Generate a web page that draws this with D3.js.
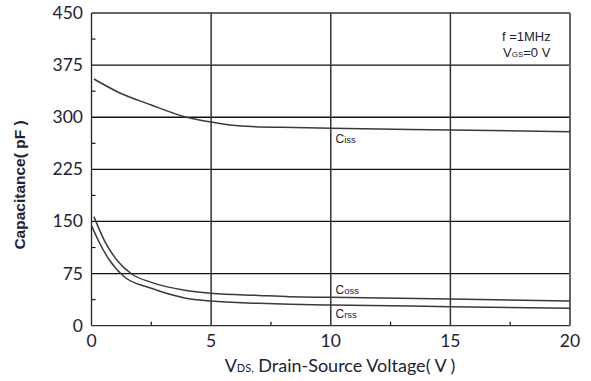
<!DOCTYPE html>
<html><head><meta charset="utf-8">
<script src="https://cdn.jsdelivr.net/npm/d3@7"></script>
<style>body{margin:0;background:#fff}svg{display:block}</style>
</head><body>
<svg id="c" width="591" height="381"></svg>
<script>
const xTicks = [0, 5, 10, 15, 20];
const yTicks = [0, 75, 150, 225, 300, 375, 450];
const xMinor = [2.5, 7.5, 12.5, 17.5];
const yMinor = [37.5, 112.5, 187.5, 262.5, 337.5, 412.5];
const vCiss = [0.1, 1.12, 2.5, 3.9, 5, 6, 6.84, 8, 10, 15, 20];
const ciss  = [355, 336, 317.6, 300.8, 293, 288, 286.4, 285.5, 284, 281.6, 279.2];
const vCoss = [0.1, 0.56, 1.12, 1.68, 2.5, 3.9, 5, 7, 8.3, 10, 15, 20];
const coss  = [157, 121, 92, 74.4, 62.4, 51, 46.6, 43.5, 41.7, 40.9, 38.4, 35.5];
const vCrss = [0, 0.28, 0.7, 1.37, 2.5, 3.9, 5, 7, 8.3, 10, 15, 20];
const crss  = [144, 123, 97, 70.5, 53.8, 40, 35.5, 32.2, 30.8, 29.8, 27.4, 25];

const svg = d3.select("#c");
const L = 91.5, R = 570, T = 13, B = 325.7;
const x = d3.scaleLinear().domain([0, 20]).range([L, R]);
const y = d3.scaleLinear().domain([0, 450]).range([B, T]);
const ink = "#222233";

// grid
svg.append("g").selectAll("line").data(yTicks.filter(d => d > 0 && d < 450)).join("line")
  .attr("x1", L).attr("x2", R).attr("y1", d => y(d)).attr("y2", d => y(d))
  .attr("stroke", "#111").attr("stroke-width", 1.3);
svg.append("g").selectAll("line").data(xTicks.filter(d => d > 0 && d < 20)).join("line")
  .attr("y1", T).attr("y2", B).attr("x1", d => x(d)).attr("x2", d => x(d))
  .attr("stroke", "#333").attr("stroke-width", 1.5);

// minor ticks
svg.append("g").selectAll("line").data(yMinor).join("line")
  .attr("x1", L).attr("x2", L + 4).attr("y1", d => y(d)).attr("y2", d => y(d))
  .attr("stroke", "#111").attr("stroke-width", 1.2);
svg.append("g").selectAll("line").data(xMinor).join("line")
  .attr("y1", B).attr("y2", B - 4).attr("x1", d => x(d)).attr("x2", d => x(d))
  .attr("stroke", "#111").attr("stroke-width", 1.2);

// frame
svg.append("line").attr("x1", L).attr("x2", R).attr("y1", T).attr("y2", T).attr("stroke", "#333").attr("stroke-width", 1.3);
svg.append("line").attr("x1", L).attr("x2", R).attr("y1", B).attr("y2", B).attr("stroke", "#333").attr("stroke-width", 1.3);
svg.append("line").attr("x1", L).attr("x2", L).attr("y1", T).attr("y2", B).attr("stroke", "#222").attr("stroke-width", 1.3);
svg.append("line").attr("x1", R).attr("x2", R).attr("y1", T).attr("y2", B).attr("stroke", "#666").attr("stroke-width", 2);

// curves
const line = d3.line().x(d => x(d[0])).y(d => y(d[1])).curve(d3.curveMonotoneX);
[[vCiss, ciss], [vCoss, coss], [vCrss, crss]].forEach(([vs, cs]) => {
  svg.append("path").attr("d", line(vs.map((v, i) => [v, cs[i]])))
    .attr("fill", "none").attr("stroke", "#3a3a3a").attr("stroke-width", 1.5);
});

// tick labels
const tf = "Lato, 'Open Sans', sans-serif";
svg.append("g").selectAll("text").data(yTicks).join("text")
  .attr("x", 83).attr("y", d => y(d) + 6).attr("text-anchor", "end")
  .attr("font-family", tf).attr("font-size", 17.5).attr("fill", ink).text(d => d);
svg.append("g").selectAll("text").data(xTicks).join("text")
  .attr("x", d => x(d)).attr("y", 347).attr("text-anchor", "middle")
  .attr("font-family", tf).attr("font-size", 17.5).attr("fill", ink).text(d => d);

// axis titles
const xt = svg.append("text").attr("x", 340).attr("y", 372).attr("text-anchor", "middle")
  .attr("font-family", tf).attr("font-size", 18).attr("fill", ink);
xt.append("tspan").text("V");
xt.append("tspan").attr("font-size", 11).text("DS,");
xt.append("tspan").text(" Drain-Source Voltage( V )");

svg.append("text").attr("transform", "translate(25,185) rotate(-90)").attr("text-anchor", "middle")
  .attr("font-family", "'Liberation Sans', Arial, sans-serif").attr("font-weight", "bold")
  .attr("font-size", 15.5).attr("fill", ink).text("Capacitance( pF )");

// annotations
const af = "'Liberation Sans', Arial, sans-serif";
svg.append("text").attr("x", 502).attr("y", 41).attr("font-family", af).attr("font-size", 13).attr("fill", ink).text("f =1MHz");
const vg = svg.append("text").attr("x", 503).attr("y", 57).attr("font-family", af).attr("font-size", 13).attr("fill", ink);
vg.append("tspan").text("V");
vg.append("tspan").attr("font-size", 8).text("GS");
vg.append("tspan").text("=0 V");

function capLabel(lx, ly, sub) {
  const t = svg.append("text").attr("x", lx).attr("y", ly).attr("font-family", af).attr("font-size", 12).attr("fill", ink);
  t.append("tspan").text("C");
  t.append("tspan").attr("font-size", 9.5).text(sub);
}
capLabel(x(10.2), 143, "iss");
capLabel(x(10.2), 294, "oss");
capLabel(x(10.2), 318, "rss");
</script>
</body></html>
